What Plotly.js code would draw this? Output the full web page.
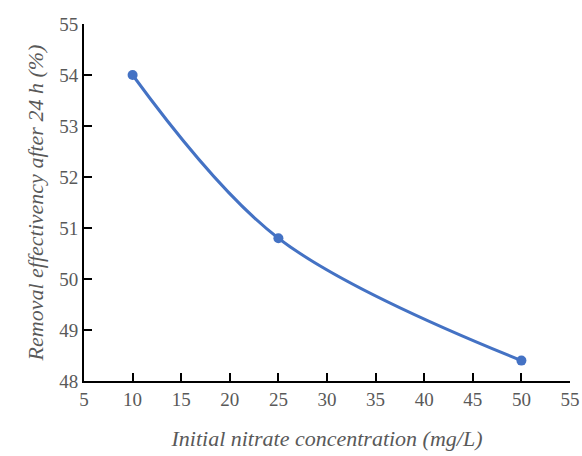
<!DOCTYPE html>
<html>
<head>
<meta charset="utf-8">
<script src="https://cdn.plot.ly/plotly-3.0.1.min.js"></script>
<style>
html,body{margin:0;padding:0;background:#fff;}
#chart{width:582px;height:456px;}
</style>
</head>
<body>
<div id="chart"></div>
<script>
const concentration = [10, 25, 50];
const removalEfficiency = [54.0, 50.8, 48.4];
const xTicks = [5, 10, 15, 20, 25, 30, 35, 40, 45, 50, 55];
const yTicks = [48, 49, 50, 51, 52, 53, 54, 55];

const trace = {
  x: concentration,
  y: removalEfficiency,
  mode: 'lines+markers',
  line: {shape: 'spline', smoothing: 1, color: '#4472C4', width: 3},
  marker: {color: '#4472C4', size: 10}
};
const layout = {
  width: 582, height: 456,
  margin: {l: 84, r: 12, t: 24, b: 75},
  showlegend: false,
  xaxis: {
    range: [5, 55], tickvals: xTicks,
    showgrid: false, zeroline: false,
    showline: true, linecolor: '#000', linewidth: 2,
    ticks: 'inside', ticklen: 8, tickwidth: 2, tickcolor: '#000',
    tickfont: {family: 'Times New Roman', size: 19, color: '#595959'},
    title: {text: '<i>Initial nitrate concentration (mg/L)</i>', font: {family: 'Times New Roman', size: 22, color: '#595959'}, standoff: 22}
  },
  yaxis: {
    range: [48, 55], tickvals: yTicks, ticksuffix: '\u00a0\u00a0',
    showgrid: false, zeroline: false,
    showline: true, linecolor: '#000', linewidth: 2,
    ticks: 'inside', ticklen: 8, tickwidth: 2, tickcolor: '#000',
    tickfont: {family: 'Times New Roman', size: 19, color: '#595959'},
    title: {text: '<i>Removal effectivency after 24 h (%)</i>', font: {family: 'Times New Roman', size: 22, color: '#595959'}, standoff: 10}
  }
};
Plotly.newPlot('chart', [trace], layout, {displayModeBar: false});
</script>
</body>
</html>
